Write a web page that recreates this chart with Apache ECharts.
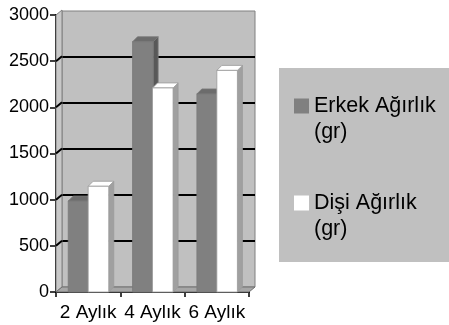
<!DOCTYPE html>
<html>
<head>
<meta charset="utf-8">
<script src="https://cdn.jsdelivr.net/npm/echarts@6/dist/echarts.min.js"></script>
<style>html,body{margin:0;padding:0;background:#fff;}#c{width:449px;height:325px;}</style>
</head>
<body>
<div id="c"></div>
<script>
const categories = ['2 Aylık', '4 Aylık', '6 Aylık'];
const erkekValues = [985, 2710, 2145];
const disiValues = [1145, 2210, 2400];
const yTicks = [0, 500, 1000, 1500, 2000, 2500, 3000];
const seriesNames = ['Erkek Ağırlık\n(gr)', 'Dişi Ağırlık\n(gr)'];

const FONT = 'Liberation Sans, Arial, sans-serif';
const WDX = 6, WDY = -5;   // wall depth offset
const BDX = 5, BDY = -5;   // bar depth offset

function barRender(offFrac, wFrac, front, top, side, stroke) {
  return function (params, api) {
    const ci = api.value(0), v = api.value(1);
    const c = api.coord([ci, v]);
    const b = api.coord([ci, 0]);
    const bw = api.size([1, 0])[0];
    const left = c[0] - bw / 2;
    const x = left + offFrac * bw, w = wFrac * bw;
    const yT = c[1], yB = b[1];
    return {
      type: 'group',
      children: [
        { type: 'polygon', shape: { points: [[x + w, yT], [x + w + BDX, yT + BDY], [x + w + BDX, yB + BDY], [x + w, yB]] },
          style: { fill: side, stroke: stroke, lineWidth: 0.8 } },
        { type: 'polygon', shape: { points: [[x, yT], [x + w, yT], [x + w + BDX, yT + BDY], [x + BDX, yT + BDY]] },
          style: { fill: top, stroke: stroke, lineWidth: 0.8 } },
        { type: 'rect', shape: { x: x, y: yT, width: w, height: yB - yT },
          style: { fill: front, stroke: stroke, lineWidth: 0.8 } }
      ]
    };
  };
}

function frameRender(params, api) {
  const bw = api.size([1, 0])[0];
  const p0 = api.coord([0, 0]);
  const x0 = p0[0] - bw / 2;
  const x1 = x0 + bw * categories.length;
  const y0 = p0[1];
  const yTop = api.coord([0, yTicks[yTicks.length - 1]])[1];
  const children = [
    { type: 'polygon', shape: { points: [[x0, y0], [x0, yTop], [x0 + WDX, yTop + WDY], [x0 + WDX, y0 + WDY]] },
      style: { fill: '#c8c8c8', stroke: '#808080', lineWidth: 1 } },
    { type: 'polygon', shape: { points: [[x0, y0], [x1, y0], [x1 + WDX, y0 + WDY], [x0 + WDX, y0 + WDY]] },
      style: { fill: '#a6a6a6', stroke: '#707070', lineWidth: 1 } }
  ];
  yTicks.slice(1, -1).forEach(function (t) {
    const y = api.coord([0, t])[1];
    children.push({ type: 'line', shape: { x1: x0, y1: y, x2: x0 + WDX, y2: y + WDY },
      style: { stroke: '#000', lineWidth: 2 } });
  });
  return { type: 'group', children: children };
}

const chart = echarts.init(document.getElementById('c'), null, { renderer: 'canvas' });
chart.setOption({
  backgroundColor: '#ffffff',
  animation: false,
  graphic: [{
    type: 'rect', left: 279, top: 68, z: -10,
    shape: { width: 175, height: 194 },
    style: { fill: '#c0c0c0' }
  }],
  grid: [
    { left: 62, right: 194, top: 11, bottom: 38, show: true, backgroundColor: '#c0c0c0', borderColor: '#808080', borderWidth: 1 },
    { left: 56, right: 200, top: 15, bottom: 33 }
  ],
  xAxis: [
    { gridIndex: 0, type: 'value', show: false, min: 0, max: 1 },
    { gridIndex: 1, type: 'category', data: categories,
      axisLine: { lineStyle: { color: '#000', width: 2 } },
      axisTick: { show: true, length: 5, lineStyle: { color: '#000', width: 1.5 } },
      axisLabel: { color: '#000', fontSize: 19, fontFamily: FONT, margin: 11, interval: 0 },
      splitLine: { show: false } }
  ],
  yAxis: [
    { gridIndex: 0, type: 'value', min: yTicks[0], max: yTicks[yTicks.length - 1], interval: 500,
      axisLine: { show: false }, axisTick: { show: false }, axisLabel: { show: false },
      splitLine: { show: true, showMinLine: false, showMaxLine: false, lineStyle: { color: '#000', width: 2 } } },
    { gridIndex: 1, type: 'value', min: yTicks[0], max: yTicks[yTicks.length - 1], interval: 500,
      axisLine: { show: true, lineStyle: { color: '#000', width: 2 } },
      axisTick: { show: true, length: 6, lineStyle: { color: '#000', width: 1.5 } },
      axisLabel: { color: '#000', fontSize: 18, fontFamily: FONT, margin: 7,
        formatter: function (v) { return String(v); } },
      splitLine: { show: false } }
  ],
  legend: {
    orient: 'vertical', left: 294, top: 67, padding: 0, itemGap: 19,
    itemWidth: 15, itemHeight: 15, icon: 'rect',
    data: seriesNames,
    formatter: function (name) {
      return name.split('\n').map(function (s, i) { return '{' + (i ? 'b' : 'a') + '|' + s + '}'; }).join('\n');
    },
    textStyle: {
      color: '#000', fontSize: 21.5, fontFamily: FONT, lineHeight: 26,
      rich: {
        a: { color: '#000', fontSize: 21.5, fontFamily: FONT, lineHeight: 52, height: 26, verticalAlign: 'bottom' },
        b: { color: '#000', fontSize: 21.5, fontFamily: FONT, lineHeight: 26 }
      }
    }
  },
  series: [
    { type: 'custom', name: 'frame', xAxisIndex: 1, yAxisIndex: 1, z: 1, silent: true,
      renderItem: frameRender, data: [[0, 0]], encode: { x: 0, y: 1 } },
    { type: 'custom', name: seriesNames[0], xAxisIndex: 1, yAxisIndex: 1, z: 2,
      itemStyle: { color: '#808080' },
      renderItem: barRender(0.19, 0.32, '#808080', '#6c6c6c', '#585858', '#787878'),
      data: erkekValues.map(function (v, i) { return [i, v]; }), encode: { x: 0, y: 1 } },
    { type: 'custom', name: seriesNames[1], xAxisIndex: 1, yAxisIndex: 1, z: 3,
      itemStyle: { color: '#ffffff' },
      renderItem: barRender(0.50, 0.32, '#ffffff', '#ffffff', '#a0a0a0', '#9a9a9a'),
      data: disiValues.map(function (v, i) { return [i, v]; }), encode: { x: 0, y: 1 } }
  ]
});
</script>
</body>
</html>
